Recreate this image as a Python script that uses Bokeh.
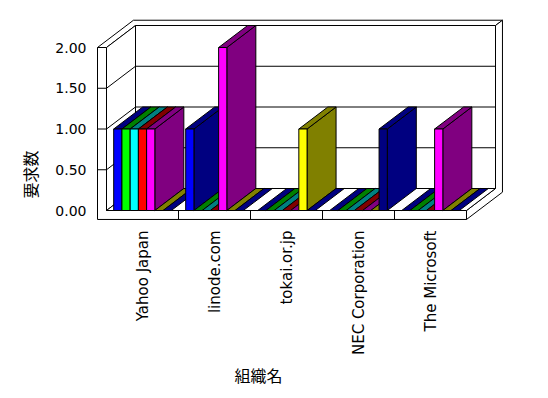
import math
from bokeh.plotting import figure
from bokeh.models import FixedTicker, PrintfTickFormatter, Title
from bokeh.embed import file_html
from bokeh.resources import INLINE

# ---- data ----
categories = ["Yahoo Japan", "linode.com", "tokai.or.jp", "NEC Corporation", "The Microsoft"]
s_blue    = [1, 1, 0, 0, 0]
s_lime    = [1, 0, 0, 0, 0]
s_cyan    = [1, 0, 0, 0, 0]
s_red     = [1, 0, 0, 0, 0]
s_magenta = [1, 2, 0, 0, 1]
s_yellow  = [0, 0, 1, 0, 0]
s_navy    = [0, 0, 0, 1, 0]
series = [s_blue, s_lime, s_cyan, s_red, s_magenta, s_yellow, s_navy]
front_colors = ["#0000FF", "#00FF00", "#00FFFF", "#FF0000", "#FF00FF", "#FFFF00", "#000080"]
dark_colors  = ["#000080", "#008000", "#008080", "#800000", "#800080", "#808000", "#000080"]
y_ticks = [0, 0.5, 1.0, 1.5, 2.0]
y_max = 2.0

# ---- 3D projection settings ----
DX = 29 / 72.0      # depth offset in category units
DY = 22 / 81.5      # depth offset in value units
WT = 0.125          # left wall thickness
FT = 0.11           # floor thickness
BT = 1.24           # outer depth incl. back wall
GAP = 0.1
NS = len(series)
W = 0.8 / NS
U1 = len(categories)


def P(pts):
    xs = [u + d * DX for (u, v, d) in pts]
    ys = [v + d * DY for (u, v, d) in pts]
    return xs, ys


p = figure(width=540, height=390, output_backend="svg", toolbar_location=None,
           x_range=(-14 / 72.0, 404 / 72.0), y_range=(-11 / 81.5, 196 / 81.5),
           min_border_left=92, min_border_right=30, min_border_top=14, min_border_bottom=169)
p.outline_line_color = None
p.xgrid.visible = False
p.ygrid.visible = False
p.background_fill_color = "white"

# walls
faces = [
    [(-WT, y_max, 0), (-WT, y_max, BT), (U1, y_max, BT), (U1, y_max, 1), (0, y_max, 1), (0, y_max, 0)],
    [(U1, y_max, 1), (U1, y_max, BT), (U1, -FT, BT), (U1, -FT, 0), (U1, 0, 0), (U1, 0, 1)],
    [(-WT, y_max, 0), (0, y_max, 0), (0, 0, 0), (U1, 0, 0), (U1, -FT, 0), (-WT, -FT, 0)],
    [(0, 0, 0), (0, y_max, 0), (0, y_max, 1), (0, 0, 1)],
    [(0, 0, 0), (0, 0, 1), (U1, 0, 1), (U1, 0, 0)],
    [(0, 0, 1), (0, y_max, 1), (U1, y_max, 1), (U1, 0, 1)],
]
wx, wy = [], []
for f in faces:
    a, b = P(f)
    wx.append(a); wy.append(b)
p.patches(wx, wy, fill_color="white", line_color="black", line_width=1)

# grid lines
gx, gy = [], []
for t in y_ticks[1:-1]:
    a, b = P([(-WT, t, 0), (0, t, 0), (0, t, 1), (U1, t, 1)])
    gx.append(a); gy.append(b)
for i in range(1, U1):
    a, b = P([(i, 0, 0), (i, -FT, 0)])
    gx.append(a); gy.append(b)
p.multi_line(gx, gy, line_color="black", line_width=1)

# bars
bx, by, bc = [], [], []
for i in range(len(categories)):
    for j in range(NS):
        h = series[j][i]
        u0 = i + GAP + j * W
        u1 = u0 + W
        if h > 0:
            a, b = P([(u1, 0, 0), (u1, h, 0), (u1, h, 1), (u1, 0, 1)])
            bx.append(a); by.append(b); bc.append(dark_colors[j])
        a, b = P([(u0, h, 0), (u1, h, 0), (u1, h, 1), (u0, h, 1)])
        bx.append(a); by.append(b); bc.append(dark_colors[j])
        if h > 0:
            a, b = P([(u0, 0, 0), (u1, 0, 0), (u1, h, 0), (u0, h, 0)])
            bx.append(a); by.append(b); bc.append(front_colors[j])
p.patches(bx, by, fill_color=bc, line_color="black", line_width=1)

# axes
p.yaxis.ticker = FixedTicker(ticks=y_ticks)
p.yaxis.formatter = PrintfTickFormatter(format="%.2f")
p.yaxis.axis_line_color = None
p.yaxis.major_tick_line_color = None
p.yaxis.minor_tick_line_color = None
p.yaxis.major_tick_out = 0
p.yaxis.major_label_standoff = 6
p.yaxis.major_label_text_font = "DejaVu Sans"
p.yaxis.major_label_text_font_size = "14px"
p.yaxis.major_label_text_color = "black"

p.xaxis.ticker = FixedTicker(ticks=[i + 0.5 for i in range(len(categories))])
p.xaxis.major_label_overrides = {i + 0.5: c for i, c in enumerate(categories)}
p.xaxis.major_label_orientation = math.pi / 2
p.xaxis.axis_line_color = None
p.xaxis.major_tick_line_color = None
p.xaxis.minor_tick_line_color = None
p.xaxis.major_tick_out = 0
p.xaxis.major_label_standoff = 9
p.xaxis.major_label_text_font = "DejaVu Sans"
p.xaxis.major_label_text_font_size = "15px"
p.xaxis.major_label_text_color = "black"

# axis titles
p.add_layout(Title(text="組織名", align="left", offset=142, standoff=4,
                   text_font="Noto Sans CJK JP", text_font_size="16px",
                   text_font_style="normal", text_color="black"), "below")
p.add_layout(Title(text="要求数", align="left", offset=23, standoff=21,
                   text_font="Noto Sans CJK JP", text_font_size="16px",
                   text_font_style="normal", text_color="black"), "left")

open("out.html", "w").write(file_html(p, INLINE))
